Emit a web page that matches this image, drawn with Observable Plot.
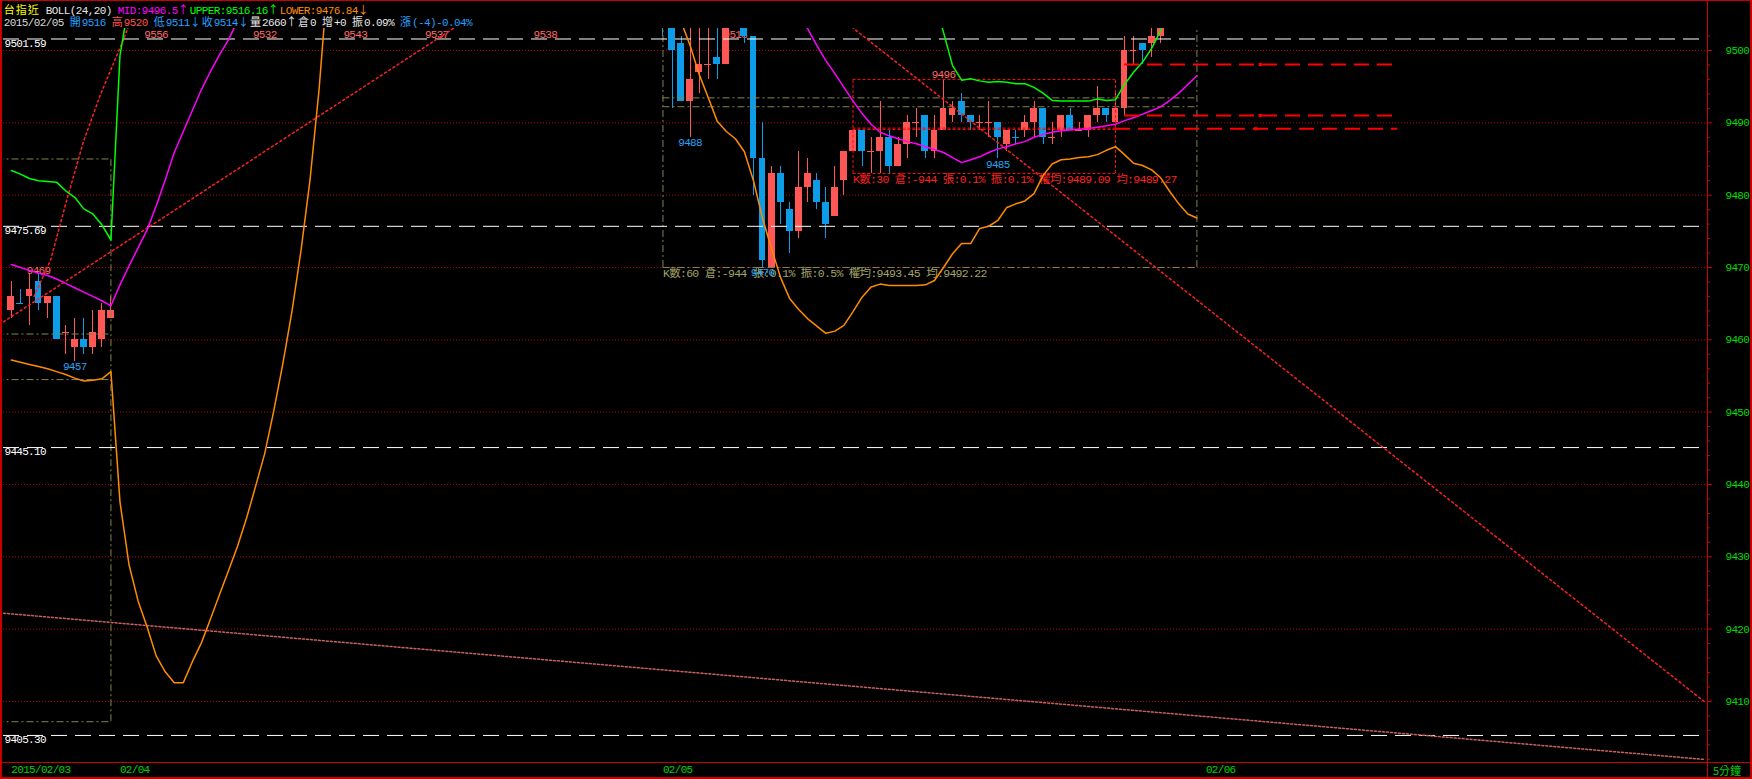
<!DOCTYPE html>
<html>
<head>
<meta charset="utf-8">
<script src="https://cdn.jsdelivr.net/npm/d3@7"></script>
<script src="https://cdn.jsdelivr.net/npm/@observablehq/plot@0.6"></script>
<style>
  html, body { margin: 0; padding: 0; background: #000; }
  #wrap { position: relative; width: 1752px; height: 779px; overflow: hidden; background: #000; }
  #head { position: relative; height: 28px; }
  #head .row { position: absolute; left: 3.8px; white-space: pre; line-height: 12px; height: 12px; }
  #head .a { font: 11px/12px "Liberation Mono", monospace; letter-spacing: -0.6px; }
  #head .w { font: 11px/12px "Noto Sans CJK TC", sans-serif; letter-spacing: 1px; }
  #chart svg text { letter-spacing: -0.7px; }
  .edge { position: absolute; background: #c80000; z-index: 2; }
  .unit { position: absolute; left: 1713px; top: 764px; font: 11px "Noto Sans CJK TC", sans-serif; line-height: 12px; color: #00d000; z-index: 2; }
</style>
</head>
<body>
<div id="wrap">
  <div id="head"></div>
  <div id="chart"></div>
</div>
<script>
// ---- visible window (bar index / price) ----
const X_MIN = -0.87, X_MAX = 187.42;
const Y_MIN = 9401.56, Y_MAX = 9503.04;

// ---- session starts on the bar-index axis ----
const dayStart  = [0, 12, 72, 132];
const dayLabels = ["2015/02/03", "02/04", "02/05", "02/06"];

// ---- 5-minute bars, tail of 2015/02/03 (index 0..11) ----
const feb03Open  = [9464, 9465, 9466, 9468, 9465, 9466, 9461, 9459, 9460, 9459, 9460, 9463];
const feb03High  = [9468, 9467, 9469, 9469, 9466, 9466, 9462, 9463, 9463, 9464, 9465, 9466];
const feb03Low   = [9463, 9465, 9462, 9464, 9463, 9460, 9458, 9457, 9458, 9458, 9459, 9463];
const feb03Close = [9466, 9465, 9467, 9465, 9466, 9460, 9461, 9460, 9459, 9461, 9464, 9464];

// ---- 5-minute bars, 2015/02/05 (index 72 + k) ----
const feb05Open  = [9508, 9506, 9501, 9493, 9497, 9498, 9499, 9498, null, 9503, 9502, 9485, 9470, 9483, 9478, 9475, 9481, 9482, 9479, 9477,
                    9482, 9486, 9489, 9486, 9486, 9488, 9484, 9487, 9490, 9491, 9486, 9489, 9491, 9493, 9491, 9490, 9490, 9490, 9487, 9488,
                    9489, 9490, 9492, 9488, 9489, 9491, 9489, 9489, 9491, 9492, 9490, 9492, 9500, 9501, 9501, 9502];
const feb05High  = [9512, 9508, 9502, 9505, 9505, 9504, 9504, 9508, null, 9503, 9502, 9490, 9484, 9484, 9479, 9486, 9485, 9483, 9481, 9484,
                    9486, 9489, 9489, 9488, 9493, 9489, 9488, 9491, 9492, 9491, 9491, 9496, 9493, 9494, 9491, 9491, 9493, 9490, 9489, 9489,
                    9491, 9493, 9492, 9490, 9491, 9492, 9490, 9491, 9495, 9492, 9494, 9502, 9502, 9501, 9503, 9504];
const feb05Low   = [9502, 9492, 9493, 9488, 9494, 9496, 9496, 9498, null, 9501, 9480, 9470, 9470, 9476, 9472, 9474, 9479, 9478, 9474, 9477,
                    9480, 9486, 9484, 9483, 9483, 9483, 9484, 9485, 9488, 9485, 9485, 9489, 9490, 9490, 9489, 9489, 9488, 9485, 9486, 9487,
                    9488, 9488, 9487, 9487, 9488, 9489, 9489, 9488, 9490, 9490, 9490, 9491, 9498, 9498, 9499, 9501];
const feb05Close = [9504, 9500, 9493, 9496, 9498, 9498, 9498, 9506, null, 9502, 9485, 9471, 9483, 9479, 9475, 9481, 9483, 9479, 9476, 9481,
                    9486, 9489, 9486, 9486, 9488, 9484, 9487, 9490, 9490, 9486, 9489, 9492, 9492, 9491, 9490, 9490, 9490, 9488, 9489, 9488,
                    9490, 9492, 9488, 9488, 9491, 9489, 9489, 9491, 9492, 9491, 9492, 9500, 9500, 9500, 9502, 9503];
const feb05First = 72;

// ---- BOLL(24,20) ----
const bollMid = 9496.5, bollUpper = 9516.16, bollLower = 9476.84;
const midA   = [9470.4, 9470.0, 9469.6, 9469.2, 9468.9, 9468.4, 9467.8, 9467.2, 9466.6, 9466.0, 9465.4, 9464.7, 9467.6, 9470.2,
                9472.7, 9475.2, 9478.5, 9482.1, 9485.9, 9488.8, 9491.7, 9494.6, 9497.1, 9499.4, 9501.5, 9504.1, 9506.6];
const upperA = [9483.4, 9482.9, 9482.3, 9482.0, 9481.9, 9481.8, 9480.6, 9479.7, 9478.1, 9477.4, 9475.9, 9473.8, 9499.3, 9506.7];
const lowerA = [9457.2, 9456.9, 9456.6, 9456.3, 9456.0, 9455.6, 9455.2, 9454.7, 9454.3, 9454.4, 9454.6, 9455.6, 9437.6, 9428.9,
                9423.9, 9420.3, 9416.3, 9414.1, 9412.6, 9412.6, 9415.5, 9418.1, 9421.4, 9424.8, 9428.1, 9431.5, 9435.4, 9439.8,
                9444.3, 9450.2, 9456.7, 9463.9, 9472.3, 9482.1, 9494.6, 9510.4];
const midBFirst = 86;
const midB   = [9507.0, 9505.1, 9503.0, 9500.7, 9498.6, 9496.8, 9494.9, 9493.0, 9491.3, 9489.8, 9488.7, 9488.2, 9487.8, 9487.4,
                9487.1, 9486.7, 9486.3, 9485.9, 9485.2, 9484.5, 9484.9, 9485.3, 9485.9, 9486.4, 9486.7, 9487.1, 9487.4, 9488.0,
                9488.4, 9488.7, 9488.9, 9489.0, 9489.1, 9489.2, 9489.4, 9489.6, 9489.8, 9490.3, 9490.7, 9491.2, 9491.7, 9492.2,
                9493.1, 9494.1, 9495.3, bollMid];
const upperBFirst = 102;
const upperB = [9507.0, 9502.5, 9497.9, 9495.9, 9496.1, 9495.8, 9495.6, 9495.7, 9495.6, 9495.4, 9495.4, 9494.9, 9494.1, 9493.1,
                9493.0, 9493.0, 9493.0, 9493.0, 9493.3, 9493.1, 9493.2, 9495.3, 9497.0, 9498.4, 9500.3, 9502.8, 9506.0];
const lowerBFirst = 72;
const lowerB = [9510.0, 9507.3, 9504.0, 9500.7, 9496.7, 9493.5, 9490.2, 9488.8, 9487.8, 9486.0, 9482.0, 9476.8, 9472.6, 9468.6,
                9465.7, 9464.2, 9462.9, 9461.9, 9460.9, 9461.2, 9462.0, 9463.9, 9465.9, 9467.3, 9467.7, 9467.5, 9467.5, 9467.5,
                9467.5, 9467.6, 9468.2, 9470.0, 9471.9, 9473.3, 9473.3, 9475.4, 9475.7, 9476.5, 9478.3, 9478.8, 9479.2, 9480.2,
                9482.7, 9484.3, 9484.9, 9485.0, 9485.2, 9485.3, 9485.6, 9486.2, 9486.7, 9485.6, 9484.4, 9484.1, 9483.5, 9482.4,
                9480.5, 9478.8, 9477.4, bollLower];

// ---- price grid, axis ticks, key levels ----
const gridPrices  = d3.range(9410, 9501, 10);
const minorPrices = d3.range(9402, 9503, 2).filter(v => v % 10 !== 0);
const levelPrices = [9501.59, 9475.69, 9445.10, 9405.30];

// ---- extreme labels ----
const highLabelIdx = [3, 16, 28, 38, 47, 59, 80, 103];
const highLabelVal = [9469, 9556, 9532, 9543, 9537, 9538, 9513, 9496];
const lowLabelIdx  = [7, 75, 83, 109];
const lowLabelVal  = [9457, 9488, 9470, 9485];

// ---- session range boxes ----
const rangeBoxStart = [-48, 72];
const rangeBoxEnd   = [11, 131];
const rangeBoxHigh  = [9485.0, 9520];
const rangeBoxLow   = [9407.2, 9470];
const rangeBoxWavg  = [9460.8, 9493.45];
const rangeBoxAvg   = [9454.5, 9492.22];
const rangeBoxBars  = [null, 60];
const rangeBoxOI    = [null, -944];
const rangeBoxChg   = [null, "0.1%"];
const rangeBoxAmp   = [null, "0.5%"];

// ---- selected-bars box ----
const selStart = 93, selEnd = 122, selHigh = 9496, selLow = 9483;
const selWavg = 9489.09, selAvg = 9489.27, selBars = 30, selOI = -944, selChg = "0.1%", selAmp = "0.1%";

// ---- horizontal price markers ----
const markPrice  = [9498.06, 9491.0, 9489.18];
const markStart  = [123, 123, 122];
const markEnd    = [153.2, 153.2, 153.2];
const markHandle = [138, 138, 137.5];

// ---- drawn trend lines (bar index, price) ----
const riseLine  = [[-0.87, 9462.49], [50, 9504.0]];
const arcLine   = [[2.5, 9465.99], [4.32, 9470.97], [6.17, 9479.54], [8.0, 9487.56], [9.85, 9493.92], [12.42, 9501.62], [13.16, 9504.15]];
const fallLine  = [[92, 9504.1], [187.1, 9409.95]];
const floorLine = [[-0.87, 9422.2], [187.1, 9401.98]];

// ---- header readout ----
const quoteDate = "2015/02/05";
const quoteOpen = 9516, quoteHigh = 9520, quoteLow = 9511, quoteClose = 9514;
const quoteVol = 2660, quoteOI = 0, quoteOIChg = 0, quoteAmp = "0.09%", quoteChg = -4, quoteChgPct = "-0.04%";

// ---------------------------------------------------------------
const UP = "#ff5656", DOWN = "#0c9ce8";
const BODY = 0.38;

function buildBars(first, open, high, low, close) {
  const out = [];
  let prev = null;
  open.forEach((o, k) => {
    if (o == null) { prev = null; return; }
    const c = close[k];
    const up = c > o || (c === o && !(prev != null && c < prev));
    out.push({i: first + k, o, h: high[k], l: low[k], c, up});
    prev = c;
  });
  return out;
}
const bars = [
  ...buildBars(0, feb03Open, feb03High, feb03Low, feb03Close),
  ...buildBars(feb05First, feb05Open, feb05High, feb05Low, feb05Close)
];
const barColor = d => d.up ? UP : DOWN;
const series = (first, vals) => vals.map((v, k) => ({i: first + k, v}));

const highLabels = highLabelIdx.map((i, k) => ({i, v: highLabelVal[k]}));
const lowLabels  = lowLabelIdx.map((i, k) => ({i, v: lowLabelVal[k]}));

// box outlines as horizontal / vertical segments
const boxH = [], boxV = [];
rangeBoxStart.forEach((s, k) => {
  const e = rangeBoxEnd[k];
  for (const y of [rangeBoxHigh[k], rangeBoxLow[k], rangeBoxWavg[k], rangeBoxAvg[k]]) boxH.push({y, x1: s, x2: e});
  for (const x of [s, e]) boxV.push({x, y1: rangeBoxLow[k], y2: rangeBoxHigh[k]});
});
const boxText = rangeBoxStart.map((s, k) => rangeBoxBars[k] == null ? null : {
  x: s, y: rangeBoxLow[k],
  t: `K數:${rangeBoxBars[k]} 倉:${rangeBoxOI[k]} 張:${rangeBoxChg[k]} 振:${rangeBoxAmp[k]} 權均:${rangeBoxWavg[k].toFixed(2)} 均:${rangeBoxAvg[k].toFixed(2)}`
}).filter(Boolean);
const selH = [selHigh, selLow, selWavg, selAvg].map(y => ({y, x1: selStart, x2: selEnd}));
const selV = [selStart, selEnd].map(x => ({x, y1: selLow, y2: selHigh}));
const selText = [{x: selStart, y: selLow,
  t: `K數:${selBars} 倉:${selOI} 張:${selChg} 振:${selAmp} 權均:${selWavg.toFixed(2)} 均:${selAvg.toFixed(2)}`}];

const marks = markPrice.map((p, k) => ({y: p, x1: markStart[k], x2: markEnd[k], h: markHandle[k]}));

const trend = (id, pts) => pts.map(([i, p]) => ({id, i, p}));
const redTrends = [...trend("rise", riseLine), ...trend("arc", arcLine), ...trend("fall", fallLine)];

const FONT = "'Liberation Mono', 'Noto Sans CJK TC', monospace";

const chart = Plot.plot({
  width: 1752, height: 751,
  marginTop: 0, marginBottom: 17, marginLeft: 3, marginRight: 45,
  x: {domain: [X_MIN, X_MAX], axis: null},
  y: {domain: [Y_MIN, Y_MAX], axis: null},
  style: {background: "#000", color: "#fff", fontFamily: FONT, fontSize: "11px"},
  marks: [
    // dotted price grid
    Plot.ruleY(gridPrices, {stroke: "#b40000", strokeDasharray: "1,2"}),

    // range-box captions
    Plot.text(boxText, {x: "x", y: "y", text: "t", textAnchor: "start", lineAnchor: "top", dy: 1, fill: "#a4a468", fontSize: 11.5}),
    Plot.text(selText, {x: "x", y: "y", text: "t", textAnchor: "start", lineAnchor: "top", dy: 1, fill: "#ff2020", fontSize: 11.5}),

    // high / low labels
    Plot.text(highLabels.filter(d => d.v <= Y_MAX), {x: "i", y: "v", text: d => String(d.v), lineAnchor: "bottom", dy: -1, fill: "#ff6a6a"}),
    Plot.text(highLabels.filter(d => d.v > Y_MAX), {x: "i", frameAnchor: "top", text: d => String(d.v), lineAnchor: "top", dy: 1.5, fill: "#ff6a6a"}),
    Plot.text(lowLabels, {x: "i", y: "v", text: d => String(d.v), lineAnchor: "top", dy: 1, fill: "#2aa2f2"}),

    // candlesticks
    Plot.ruleX(bars, {x: "i", y1: "l", y2: "h", stroke: barColor, clip: true, shapeRendering: "crispEdges"}),
    Plot.rect(bars.filter(d => d.o !== d.c), {x1: d => d.i - BODY, x2: d => d.i + BODY, y1: "o", y2: "c", fill: barColor, clip: true, shapeRendering: "crispEdges"}),
    Plot.ruleY(bars.filter(d => d.o === d.c), {y: "o", x1: d => d.i - BODY, x2: d => d.i + BODY, stroke: barColor, clip: true, shapeRendering: "crispEdges"}),

    // session range boxes (dash-dot olive)
    Plot.ruleY(boxH, {y: "y", x1: "x1", x2: "x2", stroke: "#85854c", strokeDasharray: "7,3,2,3", clip: true}),
    Plot.ruleX(boxV, {x: "x", y1: "y1", y2: "y2", stroke: "#85854c", strokeDasharray: "7,3,2,3", clip: true}),
    // selection box (red dashed)
    Plot.ruleY(selH, {y: "y", x1: "x1", x2: "x2", stroke: "#ff1010", strokeDasharray: "3,2", clip: true}),
    Plot.ruleX(selV, {x: "x", y1: "y1", y2: "y2", stroke: "#ff1010", strokeDasharray: "3,2", clip: true}),

    // key price levels
    Plot.ruleY(levelPrices, {stroke: "#ffffff", strokeDasharray: "16,8"}),

    // trend lines
    Plot.line(redTrends, {x: "i", y: "p", z: "id", stroke: "#ff2020", strokeDasharray: "2,3", clip: true}),
    Plot.line(trend("floor", floorLine), {x: "i", y: "p", stroke: "#c86060", strokeDasharray: "2,2", clip: true}),

    // Bollinger bands
    Plot.line(series(0, lowerA), {x: "i", y: "v", stroke: "#ff8c00", clip: true}),
    Plot.line(series(lowerBFirst, lowerB), {x: "i", y: "v", stroke: "#ff8c00", clip: true}),
    Plot.line(series(0, midA), {x: "i", y: "v", stroke: "#ff00ff", clip: true}),
    Plot.line(series(midBFirst, midB), {x: "i", y: "v", stroke: "#ff00ff", clip: true}),
    Plot.line(series(0, upperA), {x: "i", y: "v", stroke: "#00ff00", clip: true}),
    Plot.line(series(upperBFirst, upperB), {x: "i", y: "v", stroke: "#00ff00", clip: true}),

    // horizontal price markers
    Plot.ruleY(marks, {y: "y", x1: "x1", x2: "x2", stroke: "#ff0000", strokeWidth: 2, strokeDasharray: "15,8", clip: true}),
    Plot.dot(marks, {x: "h", y: "y", symbol: "square", r: 1.8, fill: "#ff0000", stroke: null}),

    // level captions
    Plot.text(levelPrices, {frameAnchor: "left", y: d => d, text: d => d.toFixed(2), textAnchor: "start", lineAnchor: "top", dx: 1, dy: 0, fill: "#ffffff"}),

    // right price axis with minor ticks
    Plot.axisY(gridPrices, {anchor: "right", tickSize: 4, tickPadding: 14, tickFormat: "d", textAnchor: "start",
                             stroke: "#c80000", fill: "#00dc00", fontSize: 11, label: null}),
    Plot.axisY(minorPrices, {anchor: "right", tickSize: 2, tickFormat: () => "", stroke: "#c80000", label: null}),

    // session date axis
    Plot.axisX(dayStart, {anchor: "bottom", tickSize: 0, tickPadding: 3, textAnchor: "start",
                          tickFormat: d => dayLabels[dayStart.indexOf(d)], fill: "#00d400", fontSize: 11, label: null})
  ]
});
document.getElementById("chart").appendChild(chart);

// header readout: half-width runs in a narrow monospace, full-width runs in CJK
const head = document.getElementById("head");
function addRuns(row, text, color) {
  const runs = [];
  for (const ch of text) {
    const wide = ch.charCodeAt(0) > 127;
    if (runs.length && runs[runs.length - 1].wide === wide) runs[runs.length - 1].s += ch;
    else runs.push({wide, s: ch});
  }
  for (const r of runs) {
    const s = document.createElement("span");
    s.className = r.wide ? "w" : "a";
    s.textContent = r.s;
    s.style.color = color;
    row.appendChild(s);
  }
}
const headerRows = [
  [2.5, [["台指近", "#ffff00"], [" BOLL(24,20) ", "#e8e8e8"],
         [`MID:${bollMid}↑`, "#ff00ff"], [`UPPER:${bollUpper.toFixed(2)}↑`, "#00ff00"],
         [`LOWER:${bollLower.toFixed(2)}↓`, "#ff8c00"]]],
  [15, [[`${quoteDate} `, "#d8d8d8"], [`開${quoteOpen} `, "#22a0ff"], [`高${quoteHigh} `, "#ff5050"],
        [`低${quoteLow}↓`, "#22a0ff"], [`收${quoteClose}↓`, "#22a0ff"], [`量${quoteVol}↑`, "#e8e8e8"],
        [`倉${quoteOI} `, "#e8e8e8"], [`增+${quoteOIChg} `, "#e8e8e8"], [`振${quoteAmp} `, "#e8e8e8"],
        [`漲(${quoteChg})${quoteChgPct}`, "#22a0ff"]]]
];
for (const [top, items] of headerRows) {
  const row = document.createElement("div");
  row.className = "row";
  row.style.top = top + "px";
  for (const [text, color] of items) addRuns(row, text, color);
  head.appendChild(row);
}

// window chrome: outer border, price-axis divider, date-axis divider
const wrap = document.getElementById("wrap");
const edges = [
  {left: 0, top: 0, width: 1752, height: 1},
  {left: 0, top: 0, width: 2, height: 779},
  {left: 1750, top: 0, width: 2, height: 779},
  {left: 0, top: 777, width: 1752, height: 2},
  {left: 1707, top: 0, width: 1, height: 779},
  {left: 0, top: 762, width: 1752, height: 1}
];
for (const e of edges) {
  const d = document.createElement("div");
  d.className = "edge";
  Object.assign(d.style, {left: e.left + "px", top: e.top + "px", width: e.width + "px", height: e.height + "px"});
  wrap.appendChild(d);
}
const unit = document.createElement("div");
unit.className = "unit";
unit.textContent = "5分鐘";
wrap.appendChild(unit);
</script>
</body>
</html>
